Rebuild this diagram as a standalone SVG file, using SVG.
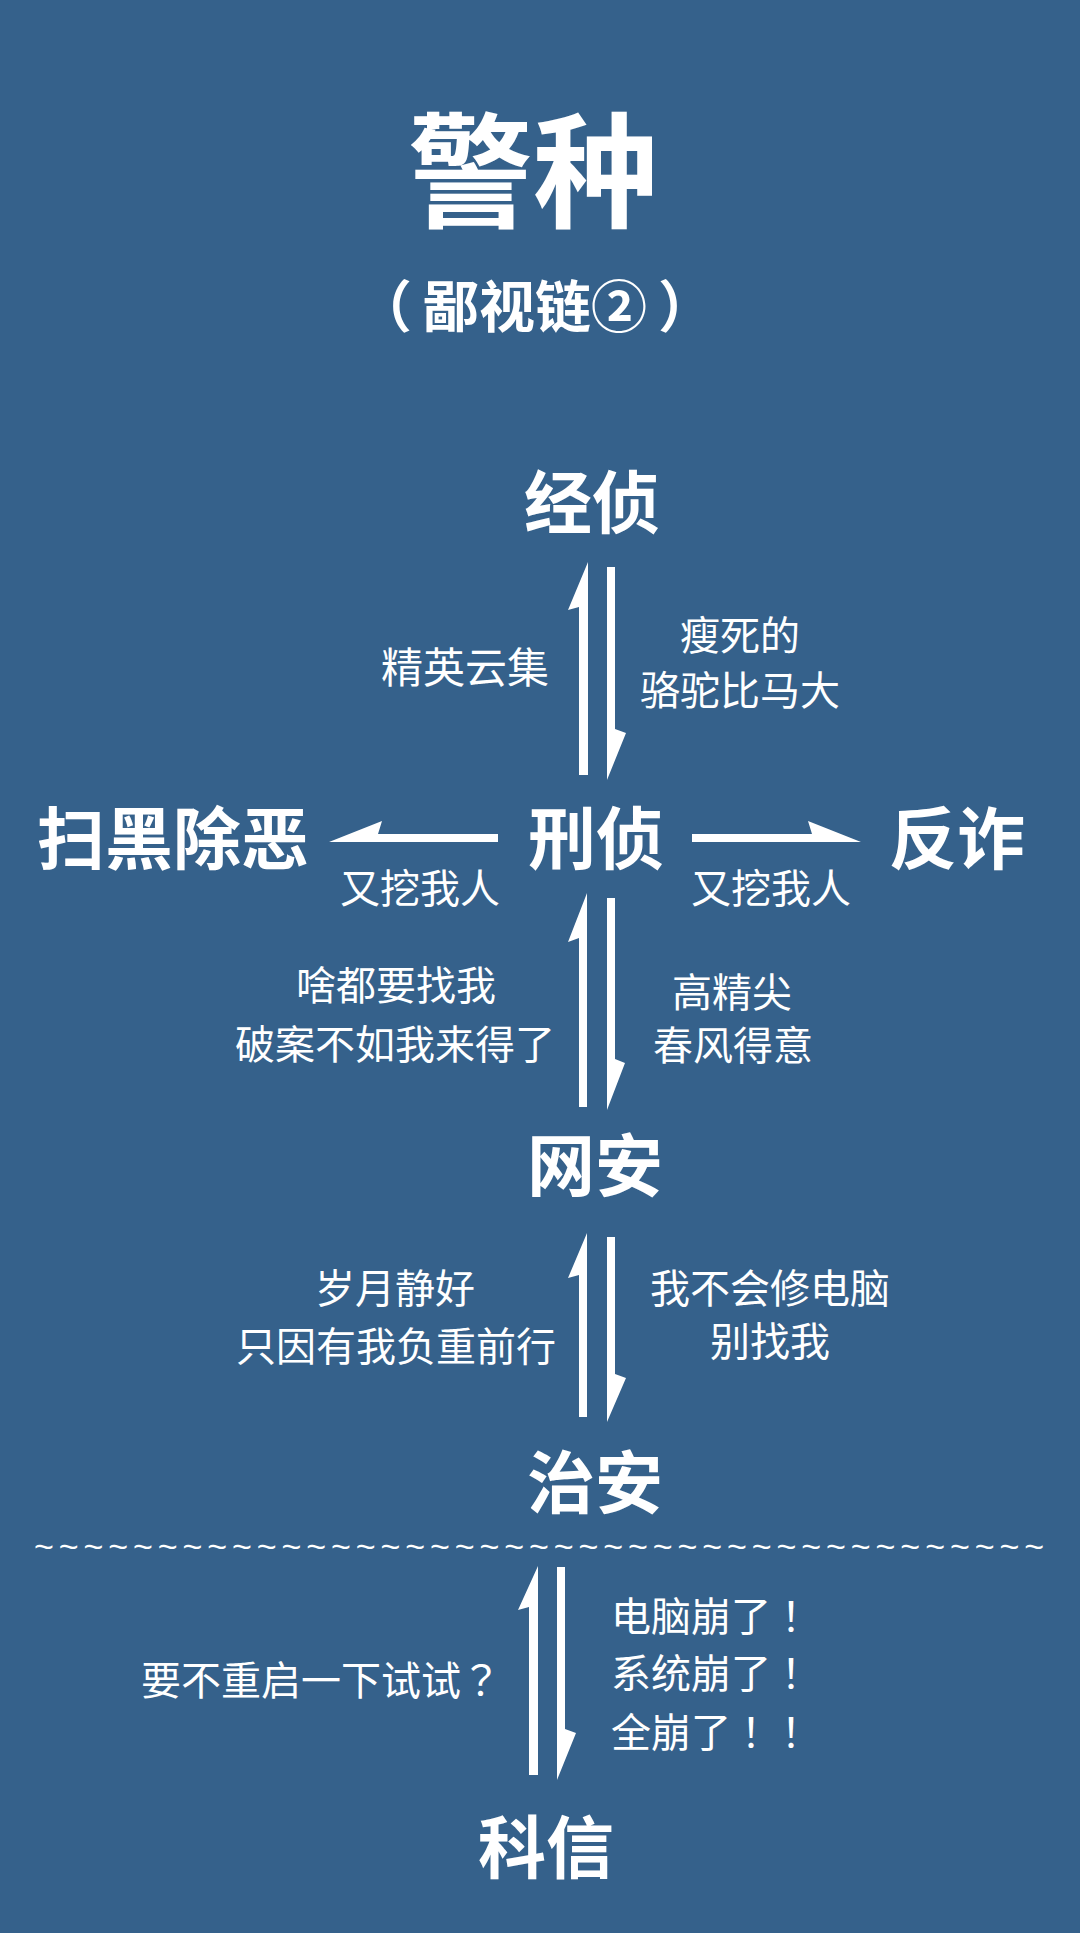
<svg xmlns="http://www.w3.org/2000/svg" width="1080" height="1933" viewBox="0 0 1080 1933">
<style>
.bg{fill:#35618b}
.node{font-family:"Noto Sans CJK SC","Noto Sans CJK TC",sans-serif;font-weight:700;font-size:68px;fill:#ffffff;text-anchor:middle}
.lbl{font-family:"Noto Sans CJK SC","Noto Sans CJK TC",sans-serif;font-weight:400;font-size:40px;fill:#ffffff}
.mid{text-anchor:middle}
.p{font-family:"Noto Sans CJK TC","Noto Sans CJK SC",sans-serif}
.arrow{fill:#ffffff}
.wave{font-family:"Liberation Sans",sans-serif;font-size:34px;fill:#ffffff}
</style>
<rect class="bg" x="0" y="0" width="1080" height="1933"/>
<g id="title">
<text class="node" x="533" y="218" style="font-size:125px">警种</text>
<text class="node" x="356" y="327" style="font-size:56px;text-anchor:start">（<tspan dx="11">鄙视链②</tspan><tspan dx="11">）</tspan></text>
</g>
<g id="node-jingzhen"><text class="node" x="592" y="528">经侦</text></g>
<g id="node-xingzhen"><text class="node" x="596" y="864">刑侦</text></g>
<g id="node-saohei"><text class="node" x="173" y="864">扫黑除恶</text></g>
<g id="node-fanzha"><text class="node" x="957" y="864">反诈</text></g>
<g id="node-wangan"><text class="node" x="595" y="1191">网安</text></g>
<g id="node-zhian"><text class="node" x="595" y="1508">治安</text></g>
<g id="node-kexin"><text class="node" x="546" y="1873">科信</text></g>
<g id="connectors">
<polygon class="arrow" points="588,562 568,610 579,607 579,775 588,775"/>
<polygon class="arrow" points="607,567 615,567 615,729 626,733 607,780"/>
<polygon class="arrow" points="587,893 568,942 579,938 579,1107 587,1107"/>
<polygon class="arrow" points="607,898 615,898 615,1059 625,1063 607,1110"/>
<polygon class="arrow" points="587,1233 568,1278 579,1275 579,1417 587,1417"/>
<polygon class="arrow" points="607,1237 615,1237 615,1374 626,1378 607,1422"/>
<polygon class="arrow" points="538,1566 518,1610 529,1607 529,1775 538,1775"/>
<polygon class="arrow" points="557,1567 565,1567 565,1729 576,1733 557,1780"/>
<polygon class="arrow" points="329,842 382,821 378,834 498,834 498,842"/>
<polygon class="arrow" points="861,842 808,821 812,834 692,834 692,842"/>
</g>
<g id="labels">
<text class="lbl mid" x="465" y="683" style="font-size:42px">精英云集</text>
<text class="lbl mid" x="740" y="650">瘦死的</text>
<text class="lbl mid" x="740" y="705">骆驼比马大</text>
<text class="lbl mid" x="420" y="903">又挖我人</text>
<text class="lbl mid" x="771" y="903">又挖我人</text>
<text class="lbl mid" x="396" y="1000">啥都要找我</text>
<text class="lbl mid" x="395" y="1059">破案不如我来得了</text>
<text class="lbl mid" x="732" y="1007">高精尖</text>
<text class="lbl mid" x="733" y="1060">春风得意</text>
<text class="lbl mid" x="395" y="1303">岁月静好</text>
<text class="lbl mid" x="396" y="1361">只因有我负重前行</text>
<text class="lbl mid" x="770" y="1303">我不会修电脑</text>
<text class="lbl mid" x="770" y="1356">别找我</text>
<text class="lbl" x="141" y="1695">要不重启一下试试<tspan class="p">？</tspan></text>
<text class="lbl" x="611" y="1631">电脑崩了<tspan class="p">！</tspan></text>
<text class="lbl" x="611" y="1688">系统崩了<tspan class="p">！</tspan></text>
<text class="lbl" x="611" y="1747">全崩了<tspan class="p">！！</tspan></text>
</g>
<g id="divider">
<text class="wave" x="34" y="1558" textLength="1010" lengthAdjust="spacing">~~~~~~~~~~~~~~~~~~~~~~~~~~~~~~~~~~~~~~~~~</text>
</g>
</svg>
